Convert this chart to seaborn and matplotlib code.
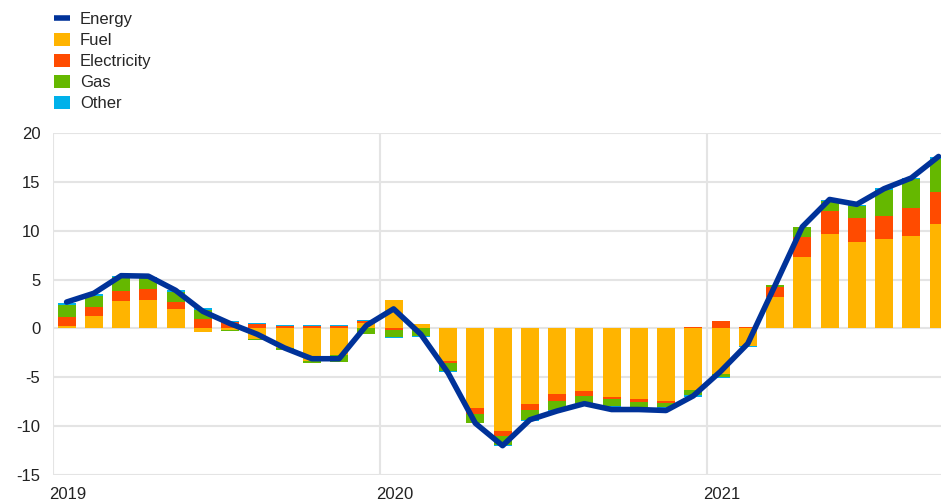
import numpy as np
import pandas as pd
import matplotlib.pyplot as plt
import seaborn as sns
from matplotlib.lines import Line2D
from matplotlib.patches import Patch
from matplotlib.transforms import ScaledTranslation, blended_transform_factory

sns.set_theme(style="white")
plt.rcParams["font.family"] = ["Liberation Sans", "DejaVu Sans"]

# monthly data, Jan 2019 - Sep 2021 (percentage points)
months = list(range(33))
fuel = [0.2, 1.3, 2.85, 2.95, 2.0, -0.35, -0.2, -1.05, -2.0, -3.3, -2.75, 0.6,
        2.9, 0.5, -3.35, -8.15, -10.5, -7.75, -6.7, -6.45, -7.0, -7.2, -7.45, -6.25,
        -4.7, -1.75, 3.25, 7.3, 9.7, 8.85, 9.15, 9.5, 10.7]
electricity = [1.0, 0.85, 0.95, 1.1, 0.7, 0.95, 0.7, 0.5, 0.3, 0.3, 0.3, 0.15,
               -0.2, 0.0, -0.17, -0.6, -0.5, -0.6, -0.7, -0.45, -0.27, -0.3, -0.17, 0.13,
               0.8, 0.15, 0.95, 2.1, 2.3, 2.5, 2.35, 2.8, 3.3]
gas = [1.2, 1.2, 1.45, 1.15, 1.0, 0.9, -0.1, -0.15, -0.2, -0.25, -0.7, -0.6,
       -0.7, -0.8, -0.85, -0.9, -0.95, -1.0, -0.9, -0.8, -0.7, -0.5, -0.45, -0.6,
       -0.25, 0.0, 0.2, 0.95, 1.05, 1.2, 2.7, 2.95, 3.35]
other = [0.2, 0.15, 0.15, 0.1, 0.2, 0.2, 0.1, 0.1, 0.07, 0.07, 0.07, 0.1,
         -0.07, -0.05, -0.1, -0.07, -0.1, -0.1, -0.1, -0.1, -0.1, -0.1, -0.1, -0.13,
         -0.1, -0.13, 0.05, 0.07, 0.07, 0.07, 0.17, 0.13, 0.2]
energy = [2.7, 3.6, 5.4, 5.35, 3.9, 1.75, 0.5, -0.6, -2.0, -3.1, -3.1, 0.3,
          2.0, -0.6, -4.55, -9.7, -12.0, -9.35, -8.45, -7.7, -8.3, -8.3, -8.4, -6.9,
          -4.4, -1.55, 4.4, 10.4, 13.2, 12.7, 14.3, 15.4, 17.6]

year_ticks = [-0.5, 11.5, 23.5]
year_labels = ["2019", "2020", "2021"]

components = ["Fuel", "Electricity", "Gas", "Other"]
colors = {"Energy": "#003299", "Fuel": "#FFB400", "Electricity": "#FF4B00",
          "Gas": "#65B800", "Other": "#00B1EA"}
GRID = "#e4e4e4"


def stacked_frame(series, sign):
    # cumulative heights per component, used to overlay bars
    vals = np.array(series, dtype=float)
    part = np.clip(vals, 0, None) if sign > 0 else np.clip(vals, None, 0)
    cum = np.cumsum(part, axis=0)
    rows = []
    for k, name in enumerate(components):
        for m in months:
            rows.append({"month": m, "component": name, "height": cum[k, m]})
    return pd.DataFrame(rows)


def main():
    series = [fuel, electricity, gas, other]

    fig = plt.figure(figsize=(9.41, 5.01), dpi=100)
    ax = fig.add_axes([0.0563, 0.0519, 0.9437, 0.6826])

    for sign in (1, -1):
        df = stacked_frame(series, sign)
        sns.barplot(
            data=df, x="month", y="height", hue="component",
            hue_order=components[::-1], palette=colors, dodge=False,
            saturation=1, width=0.66, errorbar=None, linewidth=0,
            legend=False, ax=ax, zorder=2
        )

    sns.lineplot(x=months, y=energy, color=colors["Energy"], lw=4,
                 solid_capstyle="round", ax=ax, zorder=5)

    ax.set_ylim(-15, 20)
    ax.set_xlim(-0.5, 32.09)
    ax.set_yticks(range(-15, 21, 5))
    ax.set_yticklabels([str(v) for v in range(-15, 21, 5)], fontsize=12, color="#222222")
    ax.set_xticks(year_ticks)
    ax.set_xticklabels([])
    ax.tick_params(axis="both", length=0)
    ax.tick_params(axis="y", pad=9)
    ax.set_xlabel("")
    ax.set_ylabel("")

    # year labels, left aligned next to the year gridlines
    trans = blended_transform_factory(ax.transData, ax.transAxes)
    trans = trans + ScaledTranslation(-4 / 100, -19.5 / 100, fig.dpi_scale_trans)
    for xv, lab in zip(year_ticks, year_labels):
        ax.text(xv, 0, lab, transform=trans, ha="left", va="center",
                fontsize=12, color="#222222")

    ax.yaxis.grid(True, color=GRID, lw=1.5)
    ax.xaxis.grid(False)
    for xv in year_ticks:
        ax.axvline(xv, color=GRID, lw=1.5, zorder=0)
    ax.set_axisbelow(True)
    for sp in ax.spines.values():
        sp.set_visible(False)

    handles = [Line2D([0], [0], color=colors["Energy"], lw=4, solid_capstyle="butt")]
    handles += [Patch(facecolor=colors[c], edgecolor="none") for c in components]
    fig.legend(
        handles, ["Energy"] + components, loc="upper left",
        bbox_to_anchor=(0.047, 0.997), frameon=False, fontsize=12,
        handlelength=0.95, handleheight=0.85, handletextpad=0.6,
        labelspacing=0.34, borderaxespad=0.3, borderpad=0.3
    )

    fig.savefig("out.png", dpi=100)


if __name__ == "__main__":
    main()
